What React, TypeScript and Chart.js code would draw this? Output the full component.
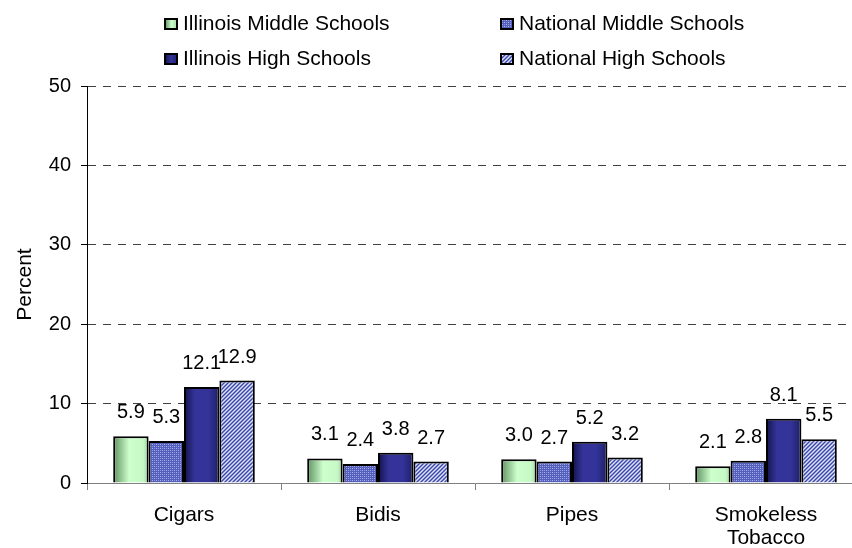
import React, { useEffect, useRef } from "react";
import { Chart, registerables } from "chart.js";
Chart.register(...registerables);

const categories: string[][] = [["Cigars"], ["Bidis"], ["Pipes"], ["Smokeless", "Tobacco"]];
const seriesNames = [
  "Illinois Middle Schools",
  "National Middle Schools",
  "Illinois High Schools",
  "National High Schools",
];
const illinoisMiddle = [5.9, 3.1, 3.0, 2.1];
const nationalMiddle = [5.3, 2.4, 2.7, 2.8];
const illinoisHigh = [12.1, 3.8, 5.2, 8.1];
const nationalHigh = [12.9, 2.7, 3.2, 5.5];
const yMin = 0;
const yMax = 50;
const yStep = 10;

const FONT = 'Arial, "Liberation Sans", sans-serif';
const CAT_PCT = 0.73;

function makePatternCanvas(kind: "dots" | "hatch"): HTMLCanvasElement {
  const c = document.createElement("canvas");
  c.width = 4;
  c.height = 4;
  const g = c.getContext("2d")!;
  if (kind === "dots") {
    g.fillStyle = "#5560bd";
    g.fillRect(0, 0, 4, 4);
    g.fillStyle = "#a9b1ec";
    g.fillRect(0, 0, 1, 1);
    g.fillRect(2, 2, 1, 1);
    g.fillStyle = "#8c96dc";
    g.fillRect(2, 0, 1, 1);
    g.fillRect(0, 2, 1, 1);
  } else {
    for (let x = 0; x < 4; x++) {
      for (let y = 0; y < 4; y++) {
        const k = (x + y) % 4;
        g.fillStyle = k === 0 ? "#dfe4fb" : k === 2 ? "#3d48a3" : "#8a94d6";
        g.fillRect(x, y, 1, 1);
      }
    }
  }
  return c;
}

let dotsCanvas: HTMLCanvasElement | null = null;
let hatchCanvas: HTMLCanvasElement | null = null;
function getDots() {
  if (!dotsCanvas) dotsCanvas = makePatternCanvas("dots");
  return dotsCanvas;
}
function getHatch() {
  if (!hatchCanvas) hatchCanvas = makePatternCanvas("hatch");
  return hatchCanvas;
}

function barBounds(c: any): [number, number] | null {
  const xs = c.chart && c.chart.scales && c.chart.scales.x;
  if (!xs || c.type !== "data") return null;
  const cw = (xs.right - xs.left) / categories.length;
  const range = cw * CAT_PCT;
  const size = range / 4;
  const center = xs.getPixelForValue(c.dataIndex);
  const x0 = center - range / 2 + size * c.datasetIndex;
  const x1 = x0 + size;
  if (!isFinite(x0) || !isFinite(x1) || x1 <= x0) return null;
  return [x0, x1];
}

function greenFill(c: any) {
  const b = barBounds(c);
  if (!b) return "#ccffcc";
  const g = c.chart.ctx.createLinearGradient(b[0], 0, b[1], 0);
  g.addColorStop(0, "#5f8f5f");
  g.addColorStop(0.45, "#ccffcc");
  g.addColorStop(0.85, "#c6f8c6");
  g.addColorStop(1, "#9fcf9f");
  return g;
}

function navyFill(c: any) {
  const b = barBounds(c);
  if (!b) return "#333399";
  const g = c.chart.ctx.createLinearGradient(b[0], 0, b[1], 0);
  g.addColorStop(0, "#12124a");
  g.addColorStop(0.3, "#333399");
  g.addColorStop(0.7, "#333399");
  g.addColorStop(1, "#1e1e66");
  return g;
}

function dotsFill(c: any) {
  const p = c.chart && c.chart.ctx ? c.chart.ctx.createPattern(getDots(), "repeat") : null;
  return p || "#5560bd";
}

function hatchFill(c: any) {
  const p = c.chart && c.chart.ctx ? c.chart.ctx.createPattern(getHatch(), "repeat") : null;
  return p || "#8890c8";
}

const valueLabels = {
  id: "valueLabels",
  afterDatasetsDraw(chart: any) {
    const ctx = chart.ctx;
    ctx.save();
    ctx.font = `20px ${FONT}`;
    ctx.fillStyle = "#000";
    ctx.textAlign = "center";
    ctx.textBaseline = "middle";
    chart.data.datasets.forEach((ds: any, i: number) => {
      const meta = chart.getDatasetMeta(i);
      meta.data.forEach((el: any, j: number) => {
        ctx.fillText(Number(ds.data[j]).toFixed(1), el.x, el.y - 23.5);
      });
    });
    ctx.restore();
  },
};

const legendBg = (i: number): React.CSSProperties => {
  if (i === 0) return { background: "linear-gradient(to right, #6f9f6f, #ccffcc 55%, #b0e0b0)" };
  if (i === 2) return { background: "linear-gradient(to right, #1a1a55, #333399 50%, #25257a)" };
  if (i === 1) return { backgroundImage: `url(${getDots().toDataURL()})` };
  return { backgroundImage: `url(${getHatch().toDataURL()})` };
};

function Legend() {
  const pos = [
    { box: 164, text: 183, base: 30 },
    { box: 500, text: 519, base: 30 },
    { box: 164, text: 183, base: 65 },
    { box: 500, text: 519, base: 65 },
  ];
  return (
    <>
      {seriesNames.map((name, i) => (
        <React.Fragment key={name}>
          <div
            style={{
              position: "absolute",
              left: pos[i].box,
              top: pos[i].base - 12,
              width: 14,
              height: 12,
              boxSizing: "border-box",
              border: "2px solid #000",
              ...legendBg(i),
            }}
          />
          <div
            style={{
              position: "absolute",
              left: pos[i].text,
              top: pos[i].base - 20,
              height: 25,
              lineHeight: "25px",
              fontFamily: FONT,
              fontSize: 21,
              color: "#000",
              whiteSpace: "nowrap",
            }}
          >
            {name}
          </div>
        </React.Fragment>
      ))}
    </>
  );
}

export default function App() {
  const ref = useRef<HTMLCanvasElement | null>(null);

  useEffect(() => {
    if (!ref.current) return;
    const chart = new Chart(ref.current, {
      type: "bar",
      data: {
        labels: categories as any,
        datasets: [
          { label: seriesNames[0], data: illinoisMiddle, backgroundColor: greenFill as any, borderColor: "#000", borderWidth: 2 },
          { label: seriesNames[1], data: nationalMiddle, backgroundColor: dotsFill as any, borderColor: "#000", borderWidth: 2 },
          { label: seriesNames[2], data: illinoisHigh, backgroundColor: navyFill as any, borderColor: "#000", borderWidth: 2 },
          { label: seriesNames[3], data: nationalHigh, backgroundColor: hatchFill as any, borderColor: "#000", borderWidth: 2 },
        ],
      },
      options: {
        responsive: false,
        animation: false,
        devicePixelRatio: 1,
        datasets: { bar: { categoryPercentage: CAT_PCT, barPercentage: 1 } },
        layout: { padding: { top: 86, right: 17, left: 0, bottom: 0 } },
        plugins: { legend: { display: false }, tooltip: { enabled: false } },
        scales: {
          x: {
            type: "category",
            offset: true,
            grid: {
              offset: true,
              drawOnChartArea: false,
              drawTicks: true,
              tickLength: 7,
              color: "#808080",
            },
            border: { color: "#808080", width: 1 },
            ticks: {
              color: "#000",
              font: { family: FONT, size: 21, lineHeight: 1.1 },
              padding: 14,
              maxRotation: 0,
              autoSkip: false,
            },
            afterFit: (s: any) => {
              s.height = 65;
            },
          },
          y: {
            min: yMin,
            max: yMax,
            ticks: {
              stepSize: yStep,
              color: "#000",
              font: { family: FONT, size: 20 },
              padding: 10,
            },
            grid: {
              color: (c: any) => (c.tick && c.tick.value === 0 ? "rgba(0,0,0,0)" : "#404040"),
              tickColor: "#000",
              tickLength: 6,
              drawTicks: true,
            },
            border: { color: "#000", width: 1, dash: [8, 7] },
            title: {
              display: true,
              text: "Percent",
              color: "#000",
              font: { family: FONT, size: 21 },
              padding: { top: 13, bottom: 0 },
            },
            afterFit: (s: any) => {
              s.width = 87;
            },
          },
        },
      },
      plugins: [valueLabels],
    });
    return () => chart.destroy();
  }, []);

  return (
    <div
      style={{
        position: "absolute",
        left: 0,
        top: 0,
        width: 852,
        height: 548,
        overflow: "hidden",
        background: "#fff",
      }}
    >
      <canvas ref={ref} width={880} height={548} style={{ display: "block", width: 880, height: 548 }} />
      <Legend />
    </div>
  );
}
